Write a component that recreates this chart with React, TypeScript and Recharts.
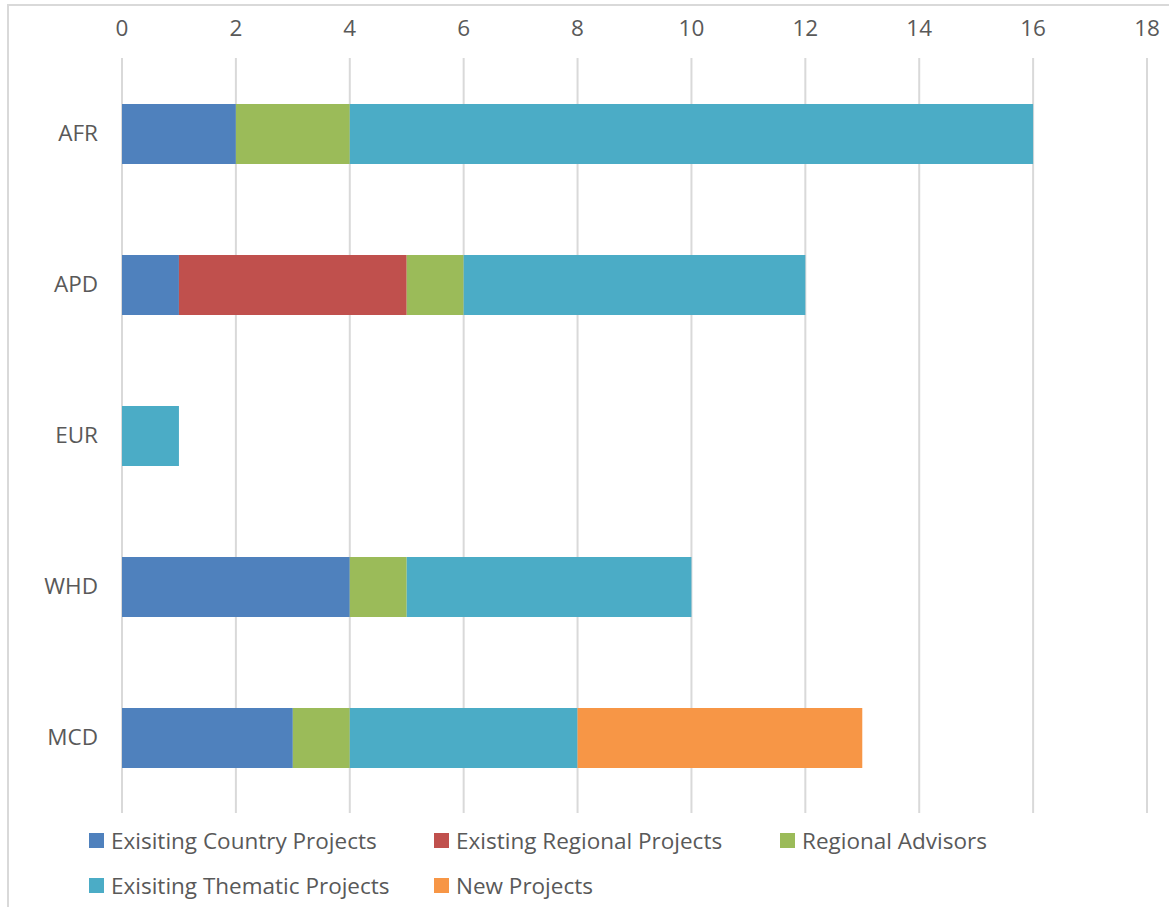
import { BarChart, Bar, XAxis, YAxis, CartesianGrid } from 'recharts';

const REGIONS = ['AFR', 'APD', 'EUR', 'WHD', 'MCD'];
const COUNTRY_PROJECTS = [2, 1, 0, 4, 3];
const REGIONAL_PROJECTS = [0, 4, 0, 0, 0];
const REGIONAL_ADVISORS = [2, 1, 0, 1, 1];
const THEMATIC_PROJECTS = [12, 6, 1, 5, 4];
const NEW_PROJECTS = [0, 0, 0, 0, 5];
const X_TICKS = [0, 2, 4, 6, 8, 10, 12, 14, 16, 18];

const SERIES = [
  { key: 'country', name: 'Exisiting Country Projects', color: '#4F81BD', values: COUNTRY_PROJECTS },
  { key: 'regional', name: 'Existing Regional Projects', color: '#C0504D', values: REGIONAL_PROJECTS },
  { key: 'advisors', name: 'Regional Advisors', color: '#9BBB59', values: REGIONAL_ADVISORS },
  { key: 'thematic', name: 'Exisiting Thematic Projects', color: '#4BACC6', values: THEMATIC_PROJECTS },
  { key: 'newp', name: 'New Projects', color: '#F79646', values: NEW_PROJECTS },
];

const FONT = '"Open Sans", "Noto Sans", sans-serif';
const TEXT = '#595959';

// legend slots (Excel lays it out as a 3-column grid)
const LEGEND_POS = [
  { left: 89, top: 826.5 },
  { left: 434, top: 826.5 },
  { left: 780, top: 826.5 },
  { left: 89, top: 871.5 },
  { left: 434, top: 871.5 },
];

export default function App() {
  const chartData = REGIONS.map((region, i) => {
    const row: Record<string, string | number> = { region };
    for (const s of SERIES) row[s.key] = s.values[i];
    return row;
  });

  return (
    <div
      style={{
        position: 'absolute',
        left: 0,
        top: 0,
        width: 1169,
        height: 907,
        background: '#fff',
        fontFamily: FONT,
        overflow: 'hidden',
      }}
    >
      {/* chart frame, only top/left edges visible in the crop */}
      <div
        style={{
          position: 'absolute',
          left: 7,
          top: 4,
          width: 1300,
          height: 1000,
          borderTop: '2px solid #d9d9d9',
          borderLeft: '2px solid #d9d9d9',
        }}
      />
      <div style={{ position: 'absolute', left: 0, top: 0 }}>
        <BarChart
          width={1169}
          height={907}
          data={chartData}
          layout="vertical"
          margin={{ top: 0, right: 22, bottom: 94, left: 0 }}
          barSize={60}
        >
          <CartesianGrid horizontal={false} stroke="#d9d9d9" strokeWidth={2} />
          <XAxis
            type="number"
            orientation="top"
            domain={[0, 18]}
            ticks={X_TICKS}
            height={58}
            axisLine={false}
            tickLine={false}
            tickSize={0}
            tickMargin={22}
            tick={{ fill: TEXT, fontSize: 22.5, fontFamily: FONT }}
            interval={0}
          />
          <YAxis
            type="category"
            dataKey="region"
            width={122}
            axisLine={false}
            tickLine={false}
            tickSize={0}
            tickMargin={24}
            tick={{ fill: TEXT, fontSize: 22.5, fontFamily: FONT }}
          />
          {SERIES.map((s) => (
            <Bar key={s.key} dataKey={s.key} name={s.name} stackId="a" fill={s.color} isAnimationActive={false} />
          ))}
        </BarChart>
      </div>

      {/* Legend */}
      {SERIES.map((s, i) => (
        <div
          key={s.key}
          style={{
            position: 'absolute',
            left: LEGEND_POS[i].left,
            top: LEGEND_POS[i].top,
            display: 'flex',
            alignItems: 'center',
            gap: 7,
            height: 28,
          }}
        >
          <div style={{ width: 15, height: 15, background: s.color }} />
          <span style={{ color: TEXT, fontSize: 22.5, whiteSpace: 'nowrap' }}>{s.name}</span>
        </div>
      ))}
    </div>
  );
}
